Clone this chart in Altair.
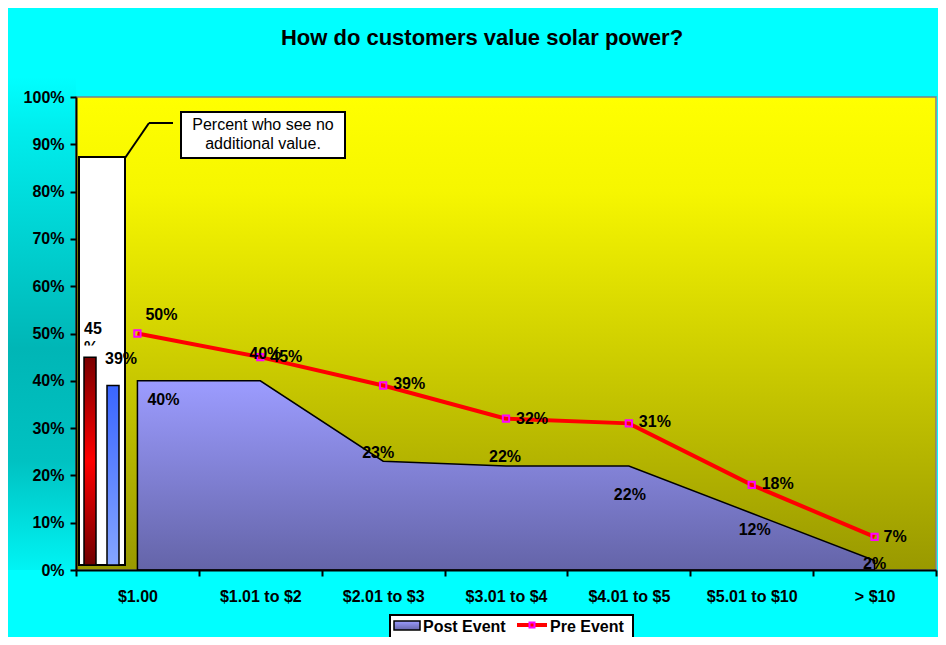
import altair as alt
import pandas as pd

# ---------------- data ----------------
categories = ["$1.00", "$1.01 to $2", "$2.01 to $3", "$3.01 to $4",
              "$4.01 to $5", "$5.01 to $10", "> $10"]
post_event = [40, 40, 23, 22, 22, 12, 2]
pre_event = [50, 45, 39, 32, 31, 18, 7]
no_value_pre = [45]
no_value_post = [39]
y_ticks = [0, 10, 20, 30, 40, 50, 60, 70, 80, 90, 100]
title_text = "How do customers value solar power?"
callout_lines = ["Percent who see no", "additional value."]
legend_names = ["Post Event", "Pre Event"]

# ---------------- layout / style ----------------
W, H = 860, 473
FONT = "Liberation Sans"
post_off = [(26, 19), (5, -27), (-5, -8), (-1, -9), (1, 29), (3, 17), (0, 3)]
pre_off = [(8, -19), (10, 0), (10, -2), (10, 0), (10, -1), (10, -1), (9, 0)]

df = pd.DataFrame({"cat": categories, "post": post_event, "pre": pre_event})
df["post_lbl"] = [f"{v}%" for v in post_event]
df["pre_lbl"] = [f"{v}%" for v in pre_event]
one = pd.DataFrame({"a": [0]})

band = alt.Scale(type="band", domain=categories, paddingInner=0, paddingOuter=0)
yscale = alt.Scale(domain=[0, 100], nice=False, zero=True)
x_axis = alt.Axis(title=None, tickBand="extent", labelAngle=0, labelFontSize=16,
                  labelFontWeight="bold", labelColor="black", labelPadding=12,
                  tickSize=6, tickWidth=2, tickColor="black", domainColor="black",
                  domainWidth=2, grid=False, zindex=1)
y_axis = alt.Axis(title=None, values=y_ticks, labelExpr="datum.value + '%'",
                  labelFontSize=16, labelFontWeight="bold", labelColor="black",
                  labelPadding=6, tickSize=6, tickWidth=2, tickColor="black",
                  domainColor="black", domainWidth=2, grid=False, zindex=1)


def X():
    return alt.X("cat:N", sort=categories, scale=band, axis=x_axis, bandPosition=0.5)


def Y(field):
    return alt.Y(f"{field}:Q", scale=yscale, axis=y_axis)


def lin(stops):
    return alt.LinearGradient(gradient="linear", x1=0, y1=0, x2=0, y2=1,
                              stops=[alt.GradientStop(color=c, offset=o) for o, c in stops])


layers = []

# left teal shading behind the y axis labels
layers.append(alt.Chart(one).mark_rect(
    fill=lin([(0, "#00FFFF"), (0.1, "#00EEEE"), (0.55, "#00B6B6"), (0.78, "#00C2C2"),
              (1, "#00F4F4")])
).encode(x=alt.value(-68), x2=alt.value(0), y=alt.value(-20), y2=alt.value(H)))

# plot area gradient
layers.append(alt.Chart(one).mark_rect(
    fill=lin([(0, "#FFFF00"), (0.2, "#F6F600"), (1, "#999900")]),
    stroke="#808080", strokeWidth=1.5
).encode(x=alt.value(0), x2=alt.value(W), y=alt.value(0), y2=alt.value(H)))

# Post Event area
layers.append(alt.Chart(df).mark_area(
    fill=lin([(0, "#9C9CFF"), (1, "#6464A8")]), stroke="black", strokeWidth=1.5
).encode(x=X(), y=Y("post")))

# inset: frame
layers.append(alt.Chart(one).mark_rect(fill="white", stroke="black", strokeWidth=2).encode(
    x=alt.value(3), x2=alt.value(49), y=alt.value(60), y2=alt.value(468)))
# inset label 45 / %
layers.append(alt.Chart(pd.DataFrame({"t": [f"{no_value_pre[0]}"]})).mark_text(
    align="left", baseline="alphabetic", fontSize=16, fontWeight="bold", font=FONT
).encode(x=alt.value(8), y=alt.value(237), text="t:N"))
layers.append(alt.Chart(one).mark_text(
    text="%", align="left", baseline="alphabetic", fontSize=16, fontWeight="bold", font=FONT
).encode(x=alt.value(8), y=alt.value(256)))
layers.append(alt.Chart(one).mark_rect(fill="white").encode(
    x=alt.value(5), x2=alt.value(27), y=alt.value(248.5), y2=alt.value(257.5)))
# inset bars
layers.append(alt.Chart(pd.DataFrame({"v": no_value_pre})).mark_rect(
    fill=lin([(0, "#7A0000"), (0.5, "#FF0000"), (1, "#700000")]), stroke="black", strokeWidth=1.5
).encode(x=alt.value(8), x2=alt.value(20), y=Y("v"), y2=alt.value(468)))
layers.append(alt.Chart(pd.DataFrame({"v": no_value_post})).mark_rect(
    fill=lin([(0, "#3A66FF"), (1, "#85A5FF")]), stroke="black", strokeWidth=1.5
).encode(x=alt.value(31), x2=alt.value(43), y=Y("v"), y2=alt.value(468)))
layers.append(alt.Chart(pd.DataFrame({"t": [f"{no_value_post[0]}%"]})).mark_text(
    align="left", baseline="alphabetic", fontSize=16, fontWeight="bold", font=FONT
).encode(x=alt.value(29), y=alt.value(267), text="t:N"))

# callout
layers.append(alt.Chart(one).mark_rect(fill="white", stroke="black", strokeWidth=2).encode(
    x=alt.value(105), x2=alt.value(269), y=alt.value(15), y2=alt.value(61)))
for i, line in enumerate(callout_lines):
    layers.append(alt.Chart(one).mark_text(
        text=line, align="center", baseline="alphabetic", fontSize=16, font=FONT, color="black"
    ).encode(x=alt.value(187), y=alt.value(33 + 19 * i)))
layers.append(alt.Chart(one).mark_rule(color="black", strokeWidth=2).encode(
    x=alt.value(49), y=alt.value(61), x2=alt.value(73), y2=alt.value(26)))
layers.append(alt.Chart(one).mark_rule(color="black", strokeWidth=2).encode(
    x=alt.value(73), y=alt.value(26), x2=alt.value(97), y2=alt.value(26)))

# Pre Event line + markers
layers.append(alt.Chart(df).mark_line(color="#FF0000", strokeWidth=4).encode(x=X(), y=Y("pre")))
layers.append(alt.Chart(df).mark_point(shape="square", size=40, filled=False, stroke="#FF00FF",
                                       strokeWidth=2, opacity=1).encode(x=X(), y=Y("pre")))

# data labels
for i, (dx, dy) in enumerate(post_off):
    layers.append(alt.Chart(df.iloc[[i]]).mark_text(
        dx=dx, dy=dy, align="center", baseline="middle", fontSize=16, fontWeight="bold",
        font=FONT, color="black").encode(x=X(), y=Y("post"), text="post_lbl:N"))
for i, (dx, dy) in enumerate(pre_off):
    layers.append(alt.Chart(df.iloc[[i]]).mark_text(
        dx=dx, dy=dy, align="left", baseline="middle", fontSize=16, fontWeight="bold",
        font=FONT, color="black").encode(x=X(), y=Y("pre"), text="pre_lbl:N"))

# title
layers.append(alt.Chart(one).mark_text(
    text=title_text, align="center", baseline="alphabetic", fontSize=22, fontWeight="bold",
    font=FONT, color="black").encode(x=alt.value(406), y=alt.value(-52)))

# legend (manual)
layers.append(alt.Chart(one).mark_rect(fill="white", stroke="black", strokeWidth=2).encode(
    x=alt.value(314), x2=alt.value(557), y=alt.value(518), y2=alt.value(548)))
layers.append(alt.Chart(one).mark_rect(
    fill=lin([(0, "#9C9CFF"), (1, "#6666AA")]), stroke="black", strokeWidth=1.5).encode(
    x=alt.value(318), x2=alt.value(344), y=alt.value(524), y2=alt.value(533)))
layers.append(alt.Chart(one).mark_text(
    text=legend_names[0], align="left", baseline="alphabetic", fontSize=16, fontWeight="bold",
    font=FONT, color="black").encode(x=alt.value(347), y=alt.value(535)))
layers.append(alt.Chart(one).mark_rule(color="#FF0000", strokeWidth=4).encode(
    x=alt.value(441), x2=alt.value(471), y=alt.value(528)))
layers.append(alt.Chart(one).mark_point(shape="square", size=25, filled=False, stroke="#FF00FF",
                                        strokeWidth=2, opacity=1).encode(
    x=alt.value(456), y=alt.value(528)))
layers.append(alt.Chart(one).mark_text(
    text=legend_names[1], align="left", baseline="alphabetic", fontSize=16, fontWeight="bold",
    font=FONT, color="black").encode(x=alt.value(474), y=alt.value(535)))

chart = alt.layer(*layers).properties(
    width=W, height=H,
    autosize=alt.AutoSizeParams(type="none"),
    padding={"left": 68, "top": 89, "right": 2, "bottom": 67},
    background="#00FFFF",
).configure_view(stroke=None).configure(font=FONT)

chart.save("out.html", embed_options={"renderer": "svg", "actions": False})
